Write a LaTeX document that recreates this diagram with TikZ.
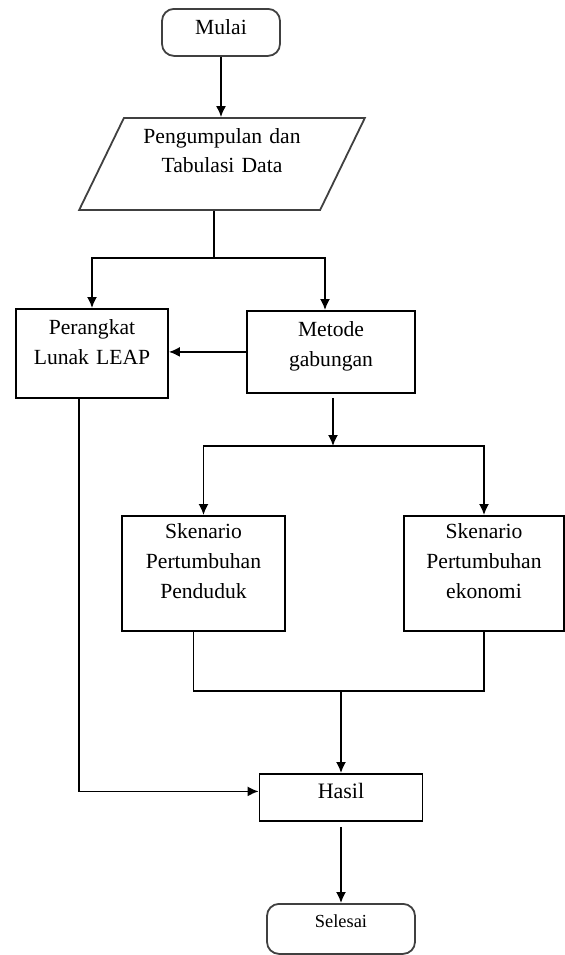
\documentclass[tikz,border=0pt]{standalone}
\usepackage{fontspec}
\setmainfont{Liberation Serif}
\usetikzlibrary{shapes.geometric,arrows.meta}

\tikzset{
  box/.style={draw, line width=0.9pt, inner sep=0pt, align=center, text width=#1,
    anchor=north, font=\fontsize{10.8}{14.8}\selectfont},
  endbox/.style={box=#1, draw=black!75, rounded corners=6pt},
  link/.style={line width=0.85pt},
  arr/.style={link, -{Latex[length=5.5pt,width=5pt]}}
}

\begin{document}
\begin{tikzpicture}[x=0.5pt, y=-0.5pt]
        \useasboundingbox (0,0) rectangle (565,955);
        \node[endbox=59pt, text height=13pt, text depth=10.5pt] (mulai) at (221,8) {Mulai};
        \node[draw=black!75, line width=0.9pt, trapezium, trapezium left angle=58,
              trapezium right angle=122, trapezium stretches, minimum width=143pt,
              minimum height=46pt, inner sep=0pt, text width=85pt, align=center,
              text height=5pt, text depth=26pt, font=\fontsize{10.8}{14.8}\selectfont]
              (data) at (222,164) {Pengumpulan dan\\Tabulasi Data};
        \node[box=76pt, text height=13pt, text depth=31.5pt] (leap) at (92,308) {Perangkat\\Lunak LEAP};
        \node[box=84pt, text height=13pt, text depth=28pt] (metode) at (331,310) {Metode\\gabungan};
        \node[box=81.5pt, text height=11.5pt, text depth=46pt] (pend) at (203.5,515) {Skenario\\Pertumbuhan\\Penduduk};
        \node[box=80pt, text height=11.5pt, text depth=46pt] (eko) at (484,515) {Skenario\\Pertumbuhan\\ekonomi};
        \node[box=81.5pt, text height=12.5pt, text depth=11pt, font=\fontsize{11}{14}\selectfont] (hasil) at (341,773) {Hasil};
        \node[endbox=74pt, text height=12pt, text depth=13pt, font=\fontsize{9.2}{12}\selectfont] (selesai) at (341,903) {Selesai};

        \coordinate (split1) at (214,258);
        \coordinate (split2) at (333,446);
        \coordinate (join) at (341,691);

        \draw[arr] (mulai.south) -- (mulai.south |- data.north);
        \draw[link] (split1 |- data.south) -- (split1);
        \draw[arr] (split1) -| (leap.north);
        \draw[arr] (split1) -| ([xshift=-3pt]metode.north);
        \draw[arr] (metode.west) -- (metode.west -| leap.east);
        \draw[arr] ([xshift=1pt,yshift=-2pt]metode.south) -- (split2);
        \draw[arr] (split2) -| (pend.north);
        \draw[arr] (split2) -| (eko.north);
        \draw[link] ([xshift=-5pt]pend.south) |- (join) -| (eko.south);
        \draw[arr] (join) -- (join |- hasil.north);
        \draw[arr] ([xshift=-6.5pt]leap.south) |- ([yshift=3pt]hasil.west);
        \draw[arr, shorten <=2.5pt] (hasil.south) -- (hasil.south |- selesai.north);
\end{tikzpicture}
\end{document}
